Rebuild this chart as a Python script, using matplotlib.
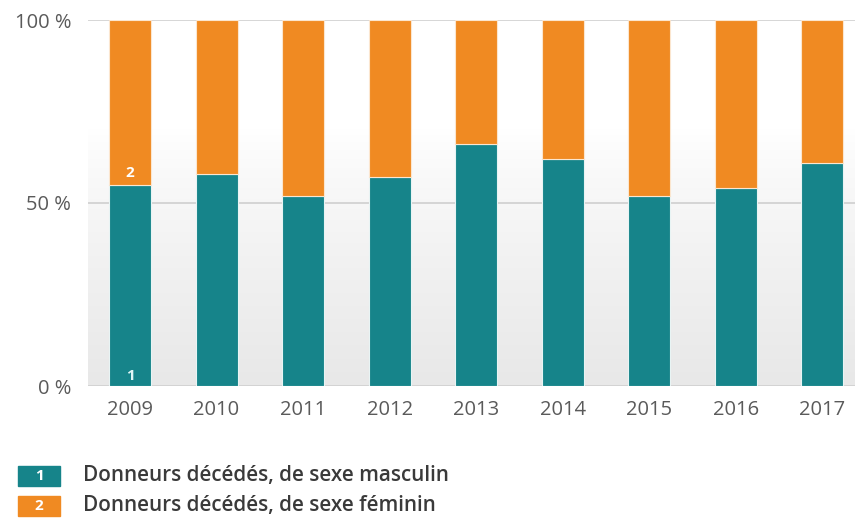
import numpy as np
import matplotlib
matplotlib.use("Agg")
import matplotlib.pyplot as plt
from matplotlib.patches import Rectangle

years = ["2009", "2010", "2011", "2012", "2013", "2014", "2015", "2016", "2017"]
male = [55, 58, 52, 57, 66, 62, 52, 54, 61]
female = [100 - m for m in male]
legend_labels = ["Donneurs décédés, de sexe masculin", "Donneurs décédés, de sexe féminin"]
yticks = [0, 50, 100]
ytick_labels = ["0 %", "50 %", "100 %"]

TEAL = "#16848a"
ORANGE = "#f08a22"
TICK = "#5a5a5a"

plt.rcParams['font.family'] = ['Open Sans', 'DejaVu Sans']

fig = plt.figure(figsize=(8.55, 5.24), dpi=100)
ax = fig.add_axes([88 / 855, 138 / 524, 767 / 855, 366 / 524])

x = np.arange(len(years))
ax.set_xlim(-0.486, 8.38)
ax.set_ylim(0, 100)

# background: white in the upper part, fading to light grey at the bottom
t = np.linspace(0.0, 1.0, 256)  # 0 at top, 1 at bottom
t = np.clip((t - 0.3) / 0.7, 0, 1) ** 0.8
top = np.array([1.0, 1.0, 1.0])
bot = np.array([0.91, 0.91, 0.91])
img = top * (1 - t)[:, None, None] + bot * t[:, None, None]
ax.imshow(img, extent=(-0.486, 8.38, 0, 100), aspect='auto', zorder=0, origin='upper')

for y in yticks:
    ax.axhline(y, color="#cfcfcf", lw=1.2, zorder=1)

w = 0.485
ax.bar(x, male, width=w, color=TEAL, edgecolor="#e8f4f4", linewidth=0.8, zorder=2)
ax.bar(x, female, bottom=male, width=w, color=ORANGE, edgecolor="#fbe6cf", linewidth=0.8, zorder=2)

ax.text(x[0], male[0] + 1.2, "2", color="white", ha="center", va="bottom",
        fontsize=11, fontweight="bold", zorder=3)
ax.text(x[0], 0.8, "1", color="#e0f6f6", ha="center", va="bottom",
        fontsize=11, fontweight="bold", zorder=3)

ax.set_xticks(x)
ax.set_xticklabels(years)
ax.set_yticks(yticks)
ax.set_yticklabels(ytick_labels)
ax.tick_params(length=0, labelsize=14.5, labelcolor=TICK)
ax.tick_params(axis='x', pad=10)
ax.tick_params(axis='y', pad=12)
for s in ax.spines.values():
    s.set_visible(False)

# legend at the bottom
for i, (lab, col) in enumerate(zip(legend_labels, [TEAL, ORANGE])):
    yb = (524 - 486 - i * 30) / 524
    fig.patches.append(Rectangle((18 / 855, yb), 42 / 855, 20 / 524,
                                 transform=fig.transFigure, color=col))
    fig.text(39 / 855, yb + 10 / 524, str(i + 1), color="white", ha="center",
             va="center", fontsize=11, fontweight="bold")
    fig.text(83 / 855, yb + 10 / 524, lab, color="#3a3a3a", ha="left",
             va="center", fontsize=14.9, fontweight="semibold")

fig.savefig("out.png", dpi=100)
